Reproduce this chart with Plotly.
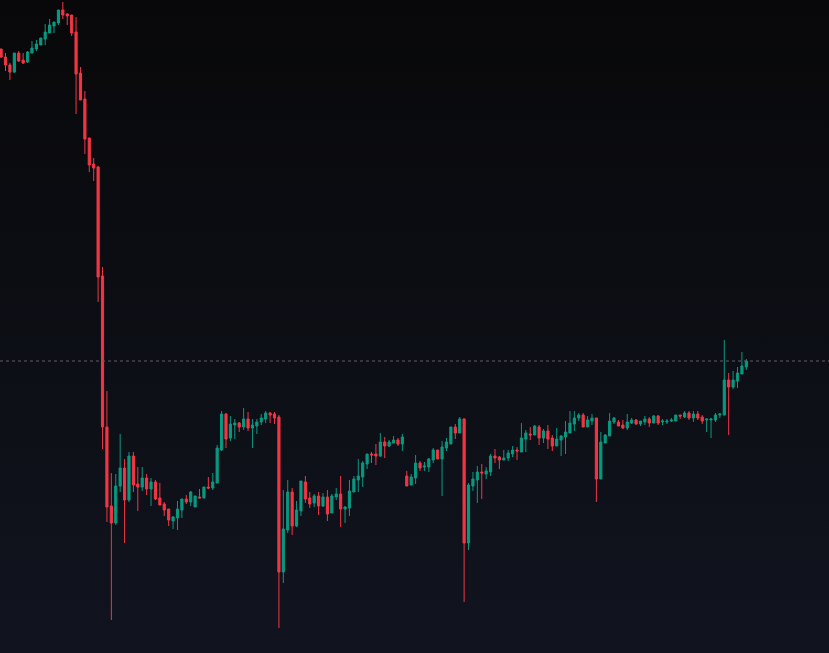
import base64
import plotly.graph_objects as go

## Données (en pixels depuis le haut, converties en prix plus bas)
PIX_H = 653

open_px = [49, 57, 65, 72, 53, 60, 62, 53, 49, 45, 39, 33, 26, 23, 10, 14, 15, 32, 73, 99,
           138, 164, 167, 276, 427, 506, 523, 486, 468, 500, 456, 484, 487, 478, 489, 482, 498, 504, 509, 521,
           518, 510, 499, 502, 507, 497, 498, 487, 488, 483, 450, 414, 438, 425, 423, 427, 419, 428, 426, 422,
           419, 413, 414, 417, 572, 530, 492, 526, 511, 482, 498, 503, 496, 506, 497, 513, 497, 494, 509, 508,
           492, 480, 477, 464, 454, 454, 456, 442, 446, 443, 440, 444, 476, 485, 478, 463, 467, 467, 460, 450,
           459, 448, 444, 427, 433, 419, 543, 486, 480, 472, 474, 472, 456, 457, 460, 458, 454, 450, 452, 439,
           434, 435, 427, 438, 431, 438, 446, 440, 437, 433, 424, 418, 415, 427, 421, 418, 479, 443, 436, 422,
           422, 425, 428, 423, 420, 424, 422, 419, 423, 416, 422, 422, 421, 421, 415, 417, 413, 418, 414, 417,
           420, 420, 420, 415, 415, 380, 387, 381, 374, 367]
close_px = [57, 65, 72, 53, 61, 63, 52, 48, 44, 38, 32, 25, 22, 10, 15, 16, 33, 74, 100, 139,
            165, 168, 277, 427, 507, 523, 486, 468, 500, 456, 485, 487, 478, 489, 482, 499, 505, 510, 520, 517,
            509, 499, 502, 492, 496, 498, 487, 488, 482, 448, 414, 439, 424, 423, 427, 419, 428, 425, 422, 418,
            413, 415, 418, 572, 529, 492, 526, 510, 481, 499, 504, 496, 506, 497, 514, 496, 494, 509, 507, 491,
            479, 476, 463, 454, 455, 456, 442, 446, 442, 440, 444, 437, 486, 477, 463, 468, 466, 459, 450, 459,
            447, 442, 427, 433, 419, 543, 485, 479, 472, 473, 471, 456, 458, 460, 458, 453, 450, 451, 438, 433,
            435, 426, 438, 431, 439, 446, 439, 436, 432, 423, 418, 415, 427, 420, 418, 479, 442, 435, 421, 418,
            426, 428, 422, 420, 424, 421, 419, 423, 416, 423, 421, 421, 420, 415, 416, 413, 418, 414, 418, 421,
            419, 419, 415, 414, 380, 387, 380, 373, 366, 361]
high_px = [49, 53, 63, 53, 51, 53, 51, 41, 40, 38, 24, 19, 22, 10, 2, 13, 15, 17, 67, 91,
           138, 158, 166, 267, 391, 473, 474, 434, 459, 452, 452, 467, 467, 474, 478, 480, 483, 502, 509, 516,
           501, 499, 495, 491, 496, 489, 487, 477, 473, 445, 411, 413, 416, 419, 422, 408, 412, 419, 419, 414,
           411, 412, 412, 415, 490, 480, 488, 501, 481, 476, 492, 494, 492, 493, 490, 494, 488, 476, 506, 480,
           476, 459, 461, 454, 452, 444, 433, 437, 440, 436, 438, 434, 471, 474, 455, 461, 462, 458, 448, 450,
           441, 438, 427, 424, 417, 418, 483, 472, 466, 464, 467, 454, 449, 456, 450, 450, 446, 447, 423, 430,
           427, 425, 425, 429, 425, 435, 428, 435, 421, 411, 411, 413, 413, 416, 414, 418, 432, 434, 413, 417,
           420, 420, 414, 418, 419, 421, 416, 417, 415, 415, 419, 419, 418, 415, 415, 411, 411, 411, 411, 415,
           419, 418, 413, 413, 340, 373, 371, 367, 352, 359]
low_px = [58, 71, 80, 73, 62, 64, 63, 53, 51, 45, 45, 33, 33, 25, 19, 25, 36, 114, 100, 154,
          172, 181, 302, 449, 522, 620, 525, 492, 543, 502, 492, 511, 491, 495, 506, 500, 505, 516, 526, 529,
          530, 518, 504, 506, 507, 498, 498, 489, 490, 483, 451, 448, 441, 439, 432, 430, 431, 448, 434, 425,
          423, 423, 424, 628, 583, 533, 535, 527, 516, 503, 508, 507, 515, 507, 521, 513, 500, 527, 523, 516,
          492, 492, 487, 469, 463, 465, 457, 458, 447, 443, 446, 451, 486, 485, 484, 471, 471, 472, 463, 459,
          496, 451, 444, 439, 433, 602, 550, 491, 503, 499, 479, 476, 463, 469, 460, 461, 457, 460, 452, 452,
          440, 435, 445, 443, 449, 451, 446, 456, 454, 433, 431, 421, 427, 427, 425, 502, 479, 443, 436, 424,
          426, 429, 430, 424, 425, 426, 425, 427, 423, 425, 425, 424, 422, 421, 419, 418, 420, 422, 420, 424,
          432, 438, 422, 418, 415, 435, 389, 388, 374, 370]

opens = [PIX_H - v for v in open_px]
closes = [PIX_H - v for v in close_px]
highs = [PIX_H - v for v in high_px]
lows = [PIX_H - v for v in low_px]
bougies = list(range(len(opens)))

## Fond en dégradé -------------------------------------------------------------
svg = ('<svg xmlns="http://www.w3.org/2000/svg" width="10" height="100" preserveAspectRatio="none">'
       '<defs><linearGradient id="g" x1="0" y1="0" x2="0" y2="1">'
       '<stop offset="0" stop-color="#08080a"/><stop offset="1" stop-color="#11141f"/>'
       '</linearGradient></defs><rect width="10" height="100" fill="url(#g)"/></svg>')
fond = "data:image/svg+xml;base64," + base64.b64encode(svg.encode()).decode()

fig = go.Figure(data=[go.Candlestick(x=bougies, open=opens, high=highs, low=lows, close=closes,
                                     increasing=dict(line=dict(color="#089981", width=1), fillcolor="#089981"),
                                     decreasing=dict(line=dict(color="#f23645", width=1), fillcolor="#f23645"),
                                     whiskerwidth=0, showlegend=False)])

fig.add_shape(type="line", xref="paper", x0=0, x1=1, y0=closes[-1], y1=closes[-1],
              line=dict(color="#5d606b", width=1, dash="dot"))

fig.update_layout(width=829, height=653, margin=dict(l=0, r=0, t=0, b=0),
                  paper_bgcolor="#0d0e13", plot_bgcolor="rgba(0,0,0,0)",
                  images=[dict(source=fond, xref="paper", yref="paper", x=0, y=1, sizex=1, sizey=1,
                               sizing="stretch", layer="below")])
fig.update_xaxes(visible=False, range=[-0.25, 187.75], rangeslider_visible=False)
fig.update_yaxes(visible=False, range=[0, PIX_H])

fig.write_html("out.html", config={"displayModeBar": False},
               post_script="document.body.style.margin='0';document.body.style.background='#0d0e13';")
